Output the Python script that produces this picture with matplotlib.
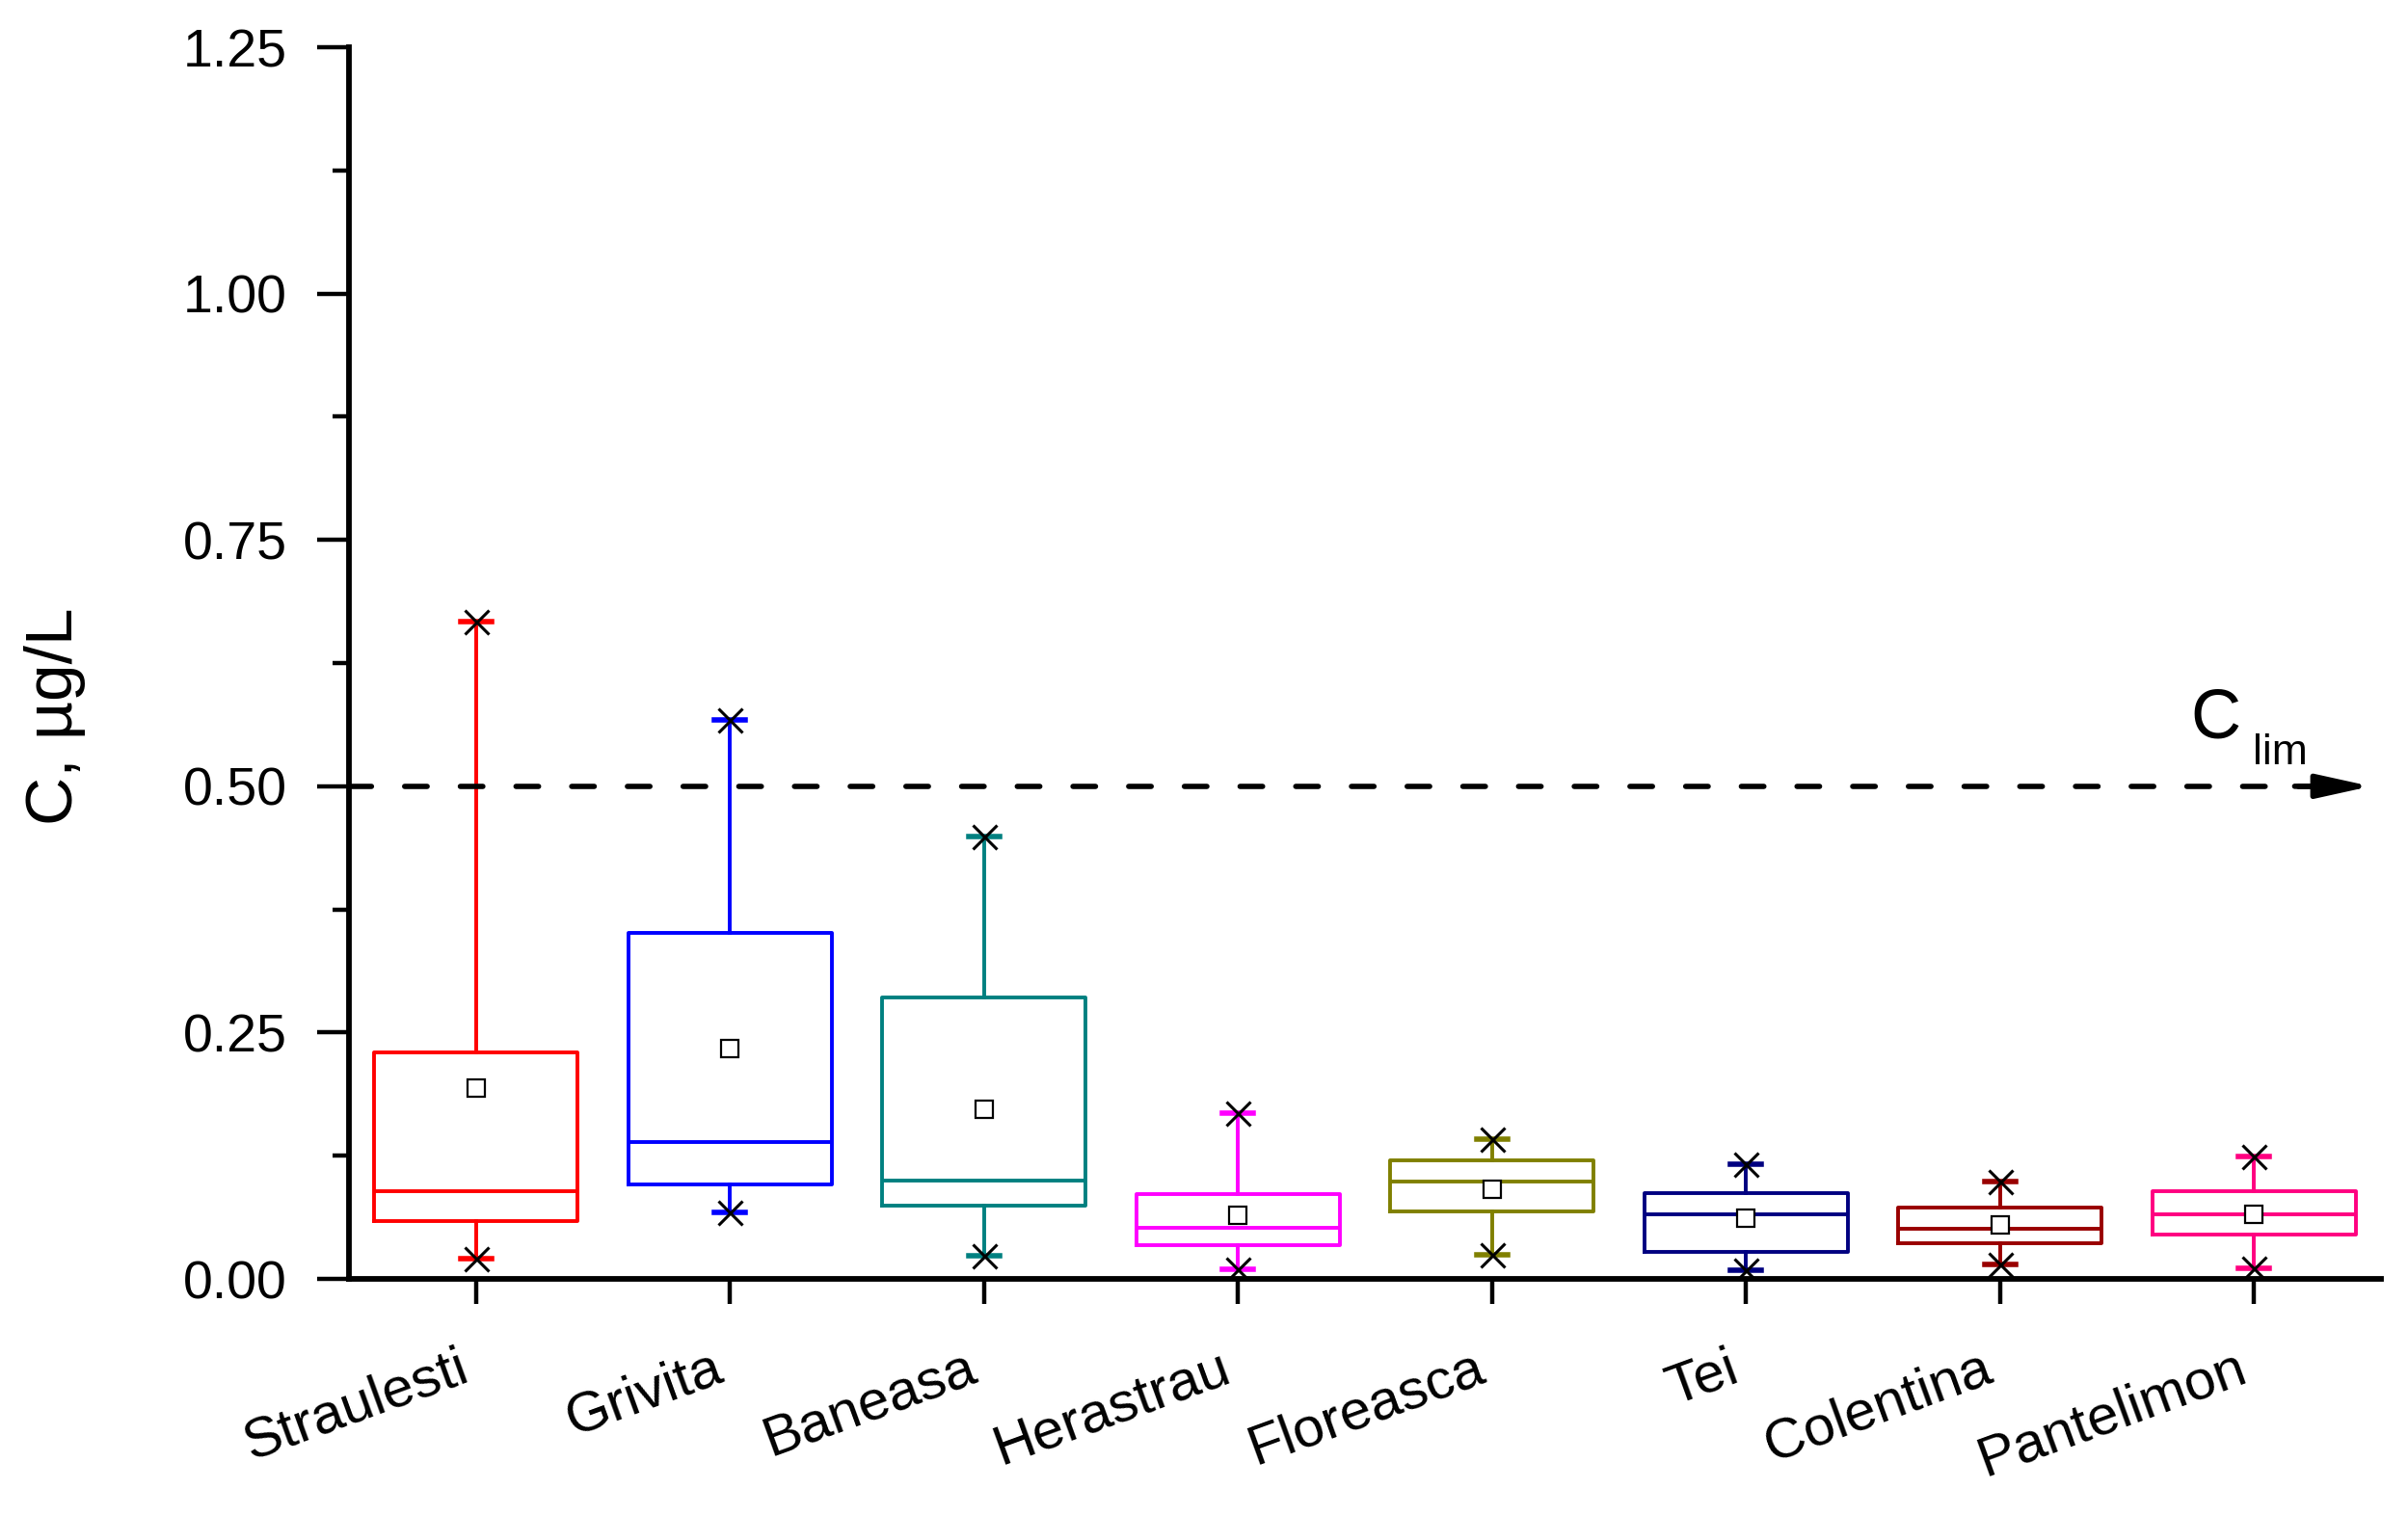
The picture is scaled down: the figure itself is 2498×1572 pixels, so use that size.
import matplotlib
matplotlib.use("Agg")
import matplotlib.pyplot as plt
import matplotlib.transforms as mtransforms
from matplotlib.ticker import MultipleLocator, FormatStrFormatter

plt.rcParams["font.family"] = ["Liberation Sans", "DejaVu Sans"]

# values (ug/L)
sites = ["Straulesti", "Grivita", "Baneasa", "Herastrau", "Floreasca",
         "Tei", "Colentina", "Pantelimon"]
whis_lo = [0.021, 0.068, 0.024, 0.010, 0.025, 0.009, 0.015, 0.011]
q1 = [0.059, 0.096, 0.074, 0.034, 0.069, 0.027, 0.036, 0.045]
medians = [0.089, 0.139, 0.100, 0.052, 0.099, 0.066, 0.051, 0.066]
q3 = [0.230, 0.351, 0.286, 0.086, 0.120, 0.087, 0.072, 0.089]
whis_hi = [0.667, 0.567, 0.449, 0.168, 0.142, 0.116, 0.099, 0.124]
means = [0.194, 0.234, 0.172, 0.065, 0.091, 0.062, 0.055, 0.066]
colors = ["#FF0000", "#0000FF", "#008080", "#FF00FF", "#808000",
          "#000080", "#990000", "#FF0080"]
c_lim = 0.5

fig = plt.figure(figsize=(24.98, 15.72), dpi=100)
ax = fig.add_axes([0.1449, 0.1558, 0.9888 - 0.1449, 0.9688 - 0.1558])

positions = list(range(1, len(sites) + 1))
for pos, name, lo, a, m, b, hi, mu, col in zip(positions, sites, whis_lo, q1, medians,
                                              q3, whis_hi, means, colors):
    stats = [dict(label=name, whislo=lo, q1=a, med=m, q3=b, whishi=hi, mean=mu, fliers=[])]
    lp = dict(color=col, linewidth=2.8)
    ax.bxp(stats, positions=[pos], widths=0.8, capwidths=0.12, showmeans=True,
           showfliers=False, patch_artist=False,
           boxprops=lp, whiskerprops=lp, medianprops=lp,
           capprops=dict(color=col, linewidth=4),
           meanprops=dict(marker="s", markerfacecolor="white", markeredgecolor="black",
                          markersize=13, markeredgewidth=1.6))
    ax.plot([pos, pos], [lo, hi], linestyle="none", marker="x", color="black",
            markersize=18, markeredgewidth=2.2, zorder=5)

# C_lim line with arrow head
x_tip = 8.46
ax.plot([0.5, x_tip - 0.2], [c_lim, c_lim], color="black", linewidth=4,
        linestyle=(0, (4.2, 6.2)), dash_capstyle="round", zorder=4)
ax.annotate("", xy=(x_tip, c_lim), xytext=(x_tip - 0.3, c_lim),
            arrowprops=dict(arrowstyle="-|>,head_length=3.4,head_width=0.75",
                            mutation_scale=10, color="black", linewidth=4,
                            shrinkA=0, shrinkB=0))
ax.text(7.75, 0.549, "C", fontsize=52, ha="left", va="baseline")
ax.text(7.995, 0.522, "lim", fontsize=32, ha="left", va="baseline")

ax.set_xlim(0.5, 8.5)
ax.set_ylim(0, 1.25)
ax.yaxis.set_major_locator(MultipleLocator(0.25))
ax.yaxis.set_minor_locator(MultipleLocator(0.125))
ax.yaxis.set_major_formatter(FormatStrFormatter("%.2f"))

for side in ("top", "right"):
    ax.spines[side].set_visible(False)
for side in ("left", "bottom"):
    ax.spines[side].set_linewidth(4.2)
ax.tick_params(axis="y", which="major", direction="out", length=24, width=3.2,
               labelsize=40, pad=22)
ax.tick_params(axis="y", which="minor", direction="out", length=12, width=3.2)
ax.tick_params(axis="x", which="major", direction="out", length=19, width=3.2, pad=28)

ax.set_xticks(positions)
ax.set_xticklabels(sites, rotation=20, ha="right", va="top", rotation_mode="anchor",
                   fontsize=42)
# nudge rotated labels a bit left so they end just under their ticks
shift = mtransforms.ScaledTranslation(-14 / 72, 0, fig.dpi_scale_trans)
for tick in ax.xaxis.get_major_ticks():
    tick.label1.set_transform(tick.label1.get_transform() + shift)

ax.set_ylabel("C, \u00b5g/L", fontsize=50, ha="center", va="center")
ax.yaxis.set_label_coords(-0.1446, 0.457)

fig.savefig("out.png", dpi=100)
